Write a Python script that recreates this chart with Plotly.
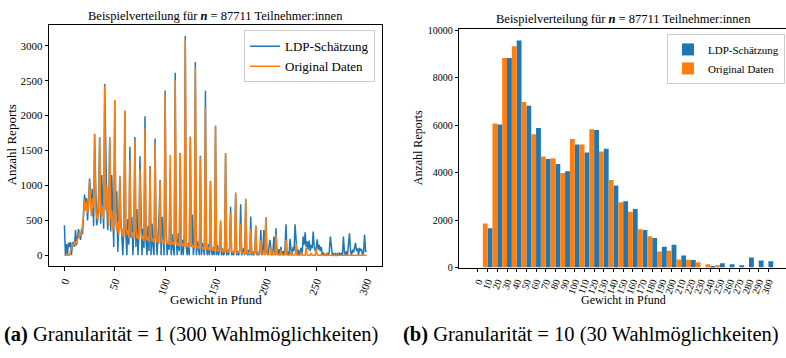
import plotly.graph_objects as go

# ---- per-pound distribution (0 .. 300 lb) ----
weights = list(range(0, 301))

orig_counts = [
    0, 0, 0, 0, 0, 0, 60, 120, 150, 140,
    200, 160, 190, 230, 260, 330, 280, 320, 420, 560,
    800, 640, 760, 610, 700, 1065, 760, 560, 820, 680,
    1736, 700, 560, 500, 620, 1681, 620, 560, 700, 520,
    2420, 640, 1000, 560, 420, 1681, 520, 640, 360, 460,
    2222, 460, 340, 480, 300, 1135, 420, 300, 380, 260,
    2070, 420, 300, 360, 250, 1357, 380, 260, 330, 240,
    1644, 360, 240, 300, 220, 1240, 330, 230, 280, 200,
    1815, 300, 220, 260, 190, 1250, 280, 200, 240, 180,
    1590, 260, 190, 220, 170, 1056, 240, 170, 210, 160,
    2306, 230, 160, 200, 150, 1436, 210, 150, 190, 140,
    2510, 200, 140, 180, 130, 1455, 190, 130, 170, 120,
    3090, 180, 120, 160, 110, 1690, 160, 110, 140, 100,
    2680, 150, 100, 130, 90, 1410, 130, 90, 110, 80,
    2121, 120, 80, 100, 70, 1056, 100, 70, 90, 60,
    1860, 90, 60, 80, 50, 500, 80, 50, 70, 45,
    1463, 70, 45, 60, 40, 607, 60, 40, 55, 35,
    903, 50, 35, 45, 30, 454, 45, 30, 40, 25,
    813, 40, 25, 35, 20, 371, 35, 20, 30, 18,
    430, 30, 18, 25, 15, 220, 25, 15, 22, 12,
    547, 20, 12, 18, 10, 120, 18, 10, 15, 8,
    300, 15, 8, 12, 6, 80, 12, 6, 10, 5,
    222, 10, 5, 8, 4, 60, 8, 4, 6, 3,
    160, 6, 3, 5, 2, 40, 5, 2, 4, 2,
    110, 4, 2, 3, 1, 30, 3, 1, 2, 1,
    100, 2, 1, 2, 0, 20, 1, 0, 1, 0,
    30, 0, 0, 0, 0, 5, 0, 0, 0, 0,
    10, 0, 0, 0, 0, 0, 0, 0, 0, 0,
    5, 0, 0, 0, 0, 0, 0, 0, 0, 0,
    0, 0, 0, 0, 0, 0, 0, 0, 0, 0,
    0,
]

ldp_counts = [
    430, 0, 160, 0, 180, 120, 190, 0, 170, 190,
    120, 360, 140, 230, 375, 300, 220, 380, 300, 620,
    870, 700, 820, 500, 760, 1100, 940, 560, 950, 420,
    1740, 1240, 430, 500, 900, 1690, 450, 1150, 640, 380,
    2454, 1218, 800, 360, 680, 1690, 340, 1150, 500, 120,
    2222, 600, 917, 50, 450, 1140, 551, 200, 0, 380,
    2070, 300, 0, 520, 150, 1556, 250, 551, 0, 380,
    1694, 120, 662, 0, 300, 1417, 450, 0, 380, 100,
    1991, 200, 0, 420, 60, 1278, 0, 454, 120, 0,
    1672, 300, 0, 250, 580, 1079, 0, 551, 150, 0,
    2361, 350, 0, 200, 80, 1215, 0, 300, 100, 0,
    2616, 250, 0, 320, 60, 1464, 0, 220, 0, 315,
    3139, 100, 0, 180, 0, 1700, 120, 583, 0, 150,
    2769, 0, 200, 60, 0, 1426, 0, 180, 40, 0,
    2357, 100, 0, 160, 0, 1065, 50, 0, 120, 0,
    1850, 0, 150, 0, 60, 480, 0, 100, 0, 40,
    1460, 0, 80, 0, 120, 694, 0, 60, 0, 100,
    880, 0, 60, 0, 80, 732, 0, 40, 100, 0,
    800, 30, 0, 80, 0, 556, 0, 60, 0, 40,
    420, 0, 50, 0, 30, 360, 0, 40, 361, 0,
    540, 60, 0, 100, 222, 80, 0, 50, 269, 0,
    385, 40, 0, 90, 0, 120, 0, 60, 0, 100,
    444, 0, 50, 0, 236, 80, 0, 120, 60, 444,
    100, 0, 80, 0, 60, 107, 0, 269, 150, 329,
    120, 200, 80, 210, 60, 150, 100, 339, 120, 60,
    100, 227, 80, 150, 60, 120, 0, 40, 0, 12,
    0, 30, 0, 50, 269, 60, 0, 20, 0, 30,
    0, 20, 0, 40, 0, 30, 0, 269, 40, 0,
    60, 0, 120, 315, 60, 0, 80, 40, 100, 176,
    60, 100, 0, 107, 60, 90, 0, 40, 292, 60,
    50,
]

# ---- 10 lb bins ----
bin_labels = [str(v) for v in range(0, 301, 10)]
bin_centers = list(range(0, 301, 10))
orig_bins = [0, 1850, 6070, 8830, 9320, 6980, 5620, 4680, 4600, 3980,
             5420, 5180, 5830, 4890, 3690, 2750, 2350, 1610, 1320, 670,
             711, 340, 330, 218, 136, 95, 0, 0, 0, 0, 0]
ldp_bins = [0, 1650, 6030, 8830, 9570, 6820, 5880, 4570, 4360, 4060,
            5180, 4850, 5790, 5010, 3460, 2790, 2470, 1576, 1247, 876,
            958, 506, 313, 0, 55, 178, 136, 95, 424, 300, 260]

BLUE = "#1f77b4"
ORANGE = "#ff7f0e"
FONT = "Liberation Serif"
W, H = 786, 358


def px_x(p):
    return p / W


def px_y(p):
    return 1 - p / H


def f(size):
    return dict(family=FONT, size=size, color="black")


fig = go.Figure()

# left panel: per-pound lines
fig.add_trace(go.Scatter(x=weights, y=ldp_counts, mode="lines", name="LDP-Schätzung",
                         line=dict(color=BLUE, width=1.5), xaxis="x", yaxis="y",
                         legend="legend"))
fig.add_trace(go.Scatter(x=weights, y=orig_counts, mode="lines", name="Original Daten",
                         line=dict(color=ORANGE, width=1.5), xaxis="x", yaxis="y",
                         legend="legend"))

# right panel: binned bars, original left of the tick, estimate right of it
fig.add_trace(go.Bar(x=bin_centers, y=ldp_bins, name="LDP-Schätzung", marker_color=BLUE,
                     marker_line_width=0, width=5, offset=0, xaxis="x2", yaxis="y2",
                     legend="legend2"))
fig.add_trace(go.Bar(x=bin_centers, y=orig_bins, name="Original Daten", marker_color=ORANGE,
                     marker_line_width=0, width=5, offset=-5, xaxis="x2", yaxis="y2",
                     legend="legend2"))

axis_common = dict(showline=True, linecolor="black", linewidth=1.2, ticks="outside",
                   ticklen=3.5, tickwidth=1, tickcolor="black", showgrid=False,
                   zeroline=False)

title_txt = "Beispielverteilung für <b><i>n</i></b> = 87711 Teilnehmer:innen"

left_yticks = list(range(0, 3001, 500))
right_yticks = list(range(0, 10001, 2000))

fig.update_layout(
    width=W, height=H,
    margin=dict(l=0, r=0, t=0, b=0),
    paper_bgcolor="white", plot_bgcolor="white",
    font=f(12),
    barmode="overlay",
    xaxis=dict(domain=[px_x(49.3), px_x(381.7)], range=[-15, 315], mirror=True,
               tickvals=list(range(0, 301, 50)), ticktext=[str(v) for v in range(0, 301, 50)],
               tickangle=-70, tickfont=f(11), anchor="y", **axis_common),
    yaxis=dict(domain=[px_y(269), px_y(21.7)], range=[-157, 3296], mirror=True,
               tickvals=left_yticks, ticktext=[str(v) for v in left_yticks],
               tickfont=f(11), anchor="x", **axis_common),
    xaxis2=dict(domain=[px_x(459.3), 1.0], range=[-19.3, 318.2], mirror=True,
                tickvals=bin_centers, ticktext=bin_labels, tickangle=-70,
                tickfont=f(10), anchor="y2", **axis_common),
    yaxis2=dict(domain=[px_y(270.3), px_y(25.7)], range=[0, 10050], mirror=False,
                tickvals=right_yticks, ticktext=[str(v) for v in right_yticks],
                tickfont=f(10), anchor="x2", **axis_common),
    legend=dict(x=px_x(375), xanchor="right", y=px_y(27), yanchor="top",
                bgcolor="rgba(255,255,255,0.85)", bordercolor="#cccccc", borderwidth=1,
                font=f(13)),
    legend2=dict(x=px_x(785), xanchor="right", y=px_y(30.7), yanchor="top",
                 bgcolor="rgba(255,255,255,0.85)", bordercolor="#cccccc", borderwidth=1,
                 font=f(11), tracegroupgap=0),
    annotations=[
        dict(text=title_txt, x=px_x(215.5), y=px_y(12), xref="paper", yref="paper",
             showarrow=False, font=f(12.5), xanchor="center", yanchor="middle"),
        dict(text=title_txt, x=px_x(623.3), y=px_y(15), xref="paper", yref="paper",
             showarrow=False, font=f(12.5), xanchor="center", yanchor="middle"),
        dict(text="Gewicht in Pfund", x=px_x(215.5), y=px_y(303), xref="paper", yref="paper",
             showarrow=False, font=f(13), xanchor="center", yanchor="middle"),
        dict(text="Gewicht in Pfund", x=px_x(623), y=px_y(303.5), xref="paper", yref="paper",
             showarrow=False, font=f(12), xanchor="center", yanchor="middle"),
        dict(text="Anzahl Reports", x=px_x(11), y=px_y(145), xref="paper", yref="paper",
             showarrow=False, font=f(13), textangle=-90,
             xanchor="center", yanchor="middle"),
        dict(text="Anzahl Reports", x=px_x(418), y=px_y(148), xref="paper", yref="paper",
             showarrow=False, font=f(12), textangle=-90,
             xanchor="center", yanchor="middle"),
        dict(text="<b>(a)</b> Granularität = 1 (300 Wahlmöglichkeiten)", x=px_x(2),
             y=px_y(339), xref="paper", yref="paper", showarrow=False,
             font=f(20.5), xanchor="left", yanchor="middle"),
        dict(text="<b>(b)</b> Granularität = 10 (30 Wahlmöglichkeiten)", x=px_x(401),
             y=px_y(339), xref="paper", yref="paper", showarrow=False,
             font=f(20.5), xanchor="left", yanchor="middle"),
    ],
)

fig.write_html("out.html")
